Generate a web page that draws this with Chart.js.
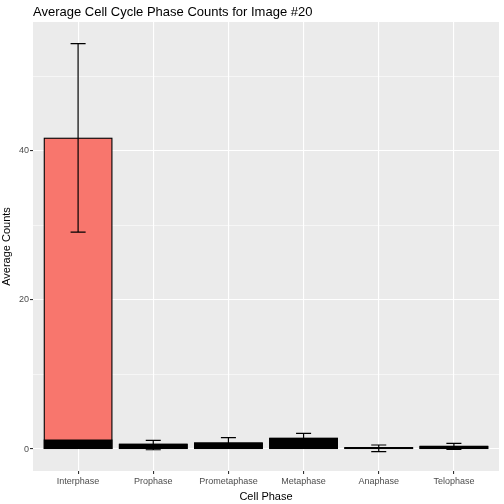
<!DOCTYPE html>
<html>
<head>
<meta charset="utf-8">
<script src="https://cdn.jsdelivr.net/npm/chart.js@4/dist/chart.umd.min.js"></script>
<style>
  html, body { margin: 0; padding: 0; background: #fff; }
  #wrap { width: 504px; height: 504px; }
</style>
</head>
<body>
<div id="wrap"><canvas id="phaseChart" width="504" height="504"></canvas></div>
<script>
// values
const phases = ['Interphase', 'Prophase', 'Prometaphase', 'Metaphase', 'Anaphase', 'Telophase'];
const meanCounts = [41.7, 0.63, 0.8, 1.43, 0.18, 0.35];
const blackCounts = [1.2, 0.63, 0.8, 1.43, 0.18, 0.35];
const errLow = [29.1, -0.1, 0.1, 0.8, -0.36, -0.06];
const errHigh = [54.4, 1.17, 1.52, 2.1, 0.54, 0.76];
const yTicks = [0, 10, 20, 30, 40, 50];
const titleText = 'Average Cell Cycle Phase Counts for Image #20';

const font = '"Liberation Sans", Arial, sans-serif';

// grey ggplot panel behind everything
const panelBg = {
    id: 'panelBg',
    beforeDraw(chart) {
        const a = chart.chartArea;
        const c = chart.ctx;
        c.save();
        c.fillStyle = '#EBEBEB';
        c.fillRect(a.left, a.top, a.right - a.left, a.bottom - a.top);
        c.restore();
    }
};

// bar outlines centred on edges (ggplot style), error bars, title
const extras = {
    id: 'extras',
    afterDatasetsDraw(chart) {
        const c = chart.ctx;
        const xs = chart.scales.x, ys = chart.scales.y;
        c.save();
        c.strokeStyle = '#000';
        c.lineWidth = 1.1;
        [0, 1].forEach(function (d) {
            chart.getDatasetMeta(d).data.forEach(function (bar) {
                const p = bar.getProps(['x', 'y', 'base', 'width'], true);
                c.strokeRect(p.x - p.width / 2, p.y, p.width, p.base - p.y);
            });
        });
        c.lineWidth = 1.2;
        const half = (xs.getPixelForValue(0.1) - xs.getPixelForValue(0));
        phases.forEach(function (p, i) {
            const x = xs.getPixelForValue(i);
            const lo = ys.getPixelForValue(errLow[i]);
            const hi = ys.getPixelForValue(errHigh[i]);
            c.beginPath();
            c.moveTo(x, lo); c.lineTo(x, hi);
            c.moveTo(x - half, lo); c.lineTo(x + half, lo);
            c.moveTo(x - half, hi); c.lineTo(x + half, hi);
            c.stroke();
        });
        c.restore();
    },
    afterDraw(chart) {
        const c = chart.ctx;
        c.save();
        c.fillStyle = '#000';
        c.font = '13px ' + font;
        c.textBaseline = 'middle';
        c.textAlign = 'left';
        c.fillText(titleText, chart.chartArea.left, 12);
        c.restore();
    }
};

const ctx = document.getElementById('phaseChart').getContext('2d');
new Chart(ctx, {
    type: 'bar',
    data: {
        datasets: [{
            label: 'mean',
            data: meanCounts.map((v, i) => ({ x: i, y: v })),
            backgroundColor: phases.map((p, i) => i === 0 ? '#F8766D' : '#000'),
            borderWidth: 0,
            grouped: false,
            order: 2,
            barPercentage: 0.9,
            categoryPercentage: 1
        }, {
            label: 'base',
            data: blackCounts.map((v, i) => ({ x: i, y: v })),
            backgroundColor: '#000',
            borderWidth: 0,
            grouped: false,
            order: 1,
            barPercentage: 0.9,
            categoryPercentage: 1
        }]
    },
    options: {
        responsive: false,
        animation: false,
        devicePixelRatio: 1,
        layout: { padding: { top: 22, right: 5, left: 0, bottom: 0 } },
        plugins: {
            legend: { display: false },
            title: { display: false },
            tooltip: { enabled: false }
        },
        scales: {
            x: {
                type: 'linear',
                min: -0.6,
                max: 5.6,
                offset: false,
                afterBuildTicks(scale) { scale.ticks = phases.map((p, i) => ({ value: i })); },
                afterFit(scale) { scale.height = 33; },
                border: { display: false },
                grid: {
                    offset: false,
                    color: '#FFFFFF',
                    lineWidth: 1.1,
                    drawTicks: true,
                    tickLength: 3,
                    tickColor: '#333333'
                },
                ticks: {
                    autoSkip: false,
                    maxRotation: 0,
                    padding: 2,
                    color: '#4D4D4D',
                    font: { family: font, size: 9 },
                    callback: (v) => phases[v]
                },
                title: {
                    display: true,
                    text: 'Cell Phase',
                    color: '#000',
                    font: { family: font, size: 11 },
                    padding: { top: 0, bottom: 0 }
                }
            },
            y: {
                min: -2.95,
                max: 57.3,
                afterBuildTicks(scale) { scale.ticks = yTicks.map(v => ({ value: v })); },
                afterFit(scale) { scale.width = 33; },
                border: { display: false },
                grid: {
                    color: '#FFFFFF',
                    lineWidth: (c) => (c.tick && c.tick.value % 20 === 0) ? 1.1 : 0.55,
                    drawTicks: true,
                    tickLength: 3,
                    tickColor: (c) => (c.tick && c.tick.value % 20 === 0) ? '#333333' : 'rgba(0,0,0,0)'
                },
                ticks: {
                    padding: 1,
                    color: '#4D4D4D',
                    font: { family: font, size: 9 },
                    callback: (v) => (v % 20 === 0 ? String(v) : '')
                },
                title: {
                    display: true,
                    text: 'Average Counts',
                    color: '#000',
                    font: { family: font, size: 11 },
                    padding: { top: 0, bottom: 2 }
                }
            }
        }
    },
    plugins: [panelBg, extras]
});
</script>
</body>
</html>
